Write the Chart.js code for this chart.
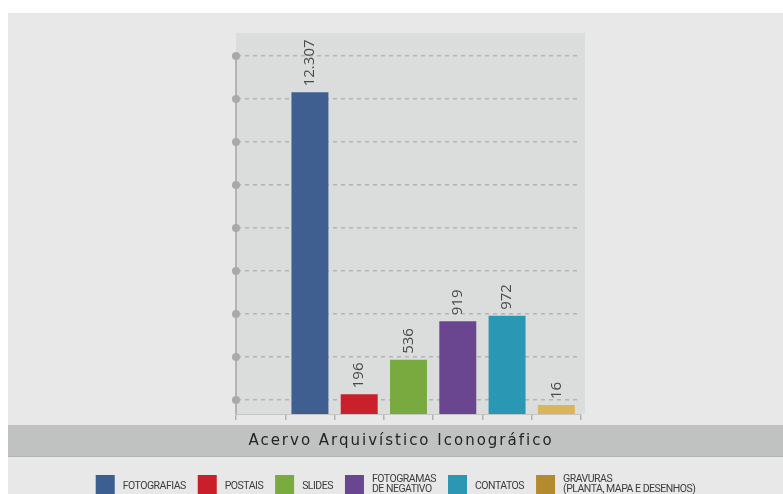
<!doctype html>
<html lang="pt-br">
<head>
    <meta charset="utf-8">
    <title>Acervo Arquivístico Iconográfico</title>
    <script src="https://cdn.jsdelivr.net/npm/chart.js"></script>
    <style>
        html, body {
            margin: 0;
            padding: 0;
            background: #ffffff;
        }
        #wrap {
            position: relative;
            width: 783px;
            height: 494px;
            overflow: hidden;
        }
    </style>
</head>
<body>
<div id="wrap">
    <canvas id="acervo_canvas" width="783" height="494"></canvas>
</div>
<script>
    const categories = ['Fotografias', 'Postais', 'Slides', 'Fotogramas de negativo', 'Contatos', 'Gravuras'];
    const values = [12307, 196, 536, 919, 972, 16];
    const barColors = ['#3e5f8f', '#c9202b', '#79aa3f', '#6a4691', '#2a97b4', '#d9b65c'];
    const legendLabels = [['FOTOGRAFIAS'], ['POSTAIS'], ['SLIDES'], ['FOTOGRAMAS', 'DE NEGATIVO'],
                          ['CONTATOS'], ['GRAVURAS', '(PLANTA, MAPA E DESENHOS)']];
    const legendColors = ['#3d5e91', '#c81f2a', '#79ab3f', '#6a4592', '#2b97b3', '#b48a2f'];
    const gridTicks = [0, 1, 2, 3, 4, 5, 6, 7, 8];
    const title = 'Acervo Arquivístico Iconográfico';

    // the original draws the biggest bar on a broken axis:
    // linear up to BREAK_AT, compressed above it
    const BREAK_AT = 1000;
    const BREAK_SHARE = 101 / 358;

    class BrokenScale extends Chart.LinearScale {
        static id = 'broken';
        static defaults = Chart.LinearScale.defaults;
        getPixelForValue(value) {
            const h = this.bottom - this.top;
            const lowPx = h * BREAK_SHARE;
            let y;
            if (value <= BREAK_AT) {
                y = value / BREAK_AT * lowPx;
            } else {
                y = lowPx + (value - BREAK_AT) / (this.max - BREAK_AT) * (h - lowPx);
            }
            return this.bottom - y;
        }
        getValueForPixel(pixel) {
            const h = this.bottom - this.top;
            const lowPx = h * BREAK_SHARE;
            const y = this.bottom - pixel;
            if (y <= lowPx) {
                return y / lowPx * BREAK_AT;
            }
            return BREAK_AT + (y - lowPx) / (h - lowPx) * (this.max - BREAK_AT);
        }
    }
    Chart.register(BrokenScale);

    function fmt(v) {
        return String(v).replace(/\B(?=(\d{3})+(?!\d))/g, '.');
    }

    // backgrounds: page, plot panel, title band
    const backdrop = {
        id: 'backdrop',
        beforeDraw(chart) {
            const ctx = chart.ctx;
            const a = chart.chartArea;
            ctx.save();
            ctx.fillStyle = '#ffffff';
            ctx.fillRect(0, 0, chart.width, chart.height);
            ctx.fillStyle = '#e8e8e8';
            ctx.fillRect(8, 13, chart.width - 8, chart.height - 13);
            ctx.fillStyle = '#dbdddd';
            ctx.fillRect(a.left, a.top - 23, a.right - a.left + 4, a.bottom - a.top + 23);
            // title band
            ctx.fillStyle = '#c0c2c2';
            ctx.fillRect(8, 425, chart.width - 8, 32);
            ctx.fillStyle = '#b3b5b5';
            ctx.fillRect(8, 456, chart.width - 8, 1);
            ctx.fillStyle = '#232323';
            ctx.font = '15px "DejaVu Sans"';
            ctx.letterSpacing = '2px';
            ctx.textAlign = 'center';
            ctx.textBaseline = 'middle';
            ctx.fillText(title, 401, 441);
            ctx.restore();
        }
    };

    // grey dots on the axis, value labels, legend
    const decorations = {
        id: 'decorations',
        afterDraw(chart) {
            const ctx = chart.ctx;
            const g = chart.scales.g;
            ctx.save();
            ctx.fillStyle = '#a9a9a9';
            gridTicks.forEach(t => {
                ctx.beginPath();
                ctx.arc(g.right, g.getPixelForValue(t), 4, 0, Math.PI * 2);
                ctx.fill();
            });

            // rotated value labels above the bars
            const meta = chart.getDatasetMeta(0);
            ctx.fillStyle = '#4a4a4a';
            ctx.font = '15px "Open Sans"';
            ctx.textAlign = 'left';
            ctx.textBaseline = 'middle';
            meta.data.forEach((bar, i) => {
                const v = chart.data.datasets[0].data[i];
                if (v == null) return;
                ctx.save();
                ctx.translate(bar.x, bar.y - 6);
                ctx.rotate(-Math.PI / 2);
                ctx.fillText(fmt(v), 0, 0);
                ctx.restore();
            });

            // legend along the bottom
            ctx.font = '10.5px Roboto';
            ctx.letterSpacing = '-0.5px';
            ctx.textBaseline = 'alphabetic';
            const box = 19, gap = 8, space = 12;
            const widths = legendLabels.map(lines => Math.max(...lines.map(l => ctx.measureText(l).width)));
            const total = widths.reduce((s, w) => s + box + gap + w, 0) + space * (widths.length - 1);
            let x = (8 + chart.width) / 2 - total / 2;
            legendLabels.forEach((lines, i) => {
                ctx.fillStyle = legendColors[i];
                ctx.fillRect(x, 475, box, box);
                ctx.fillStyle = '#3c3c3c';
                if (lines.length === 1) {
                    ctx.fillText(lines[0], x + box + gap, 489);
                } else {
                    ctx.fillText(lines[0], x + box + gap, 482);
                    ctx.fillText(lines[1], x + box + gap, 492);
                }
                x += box + gap + widths[i] + space;
            });
            ctx.restore();
        }
    };

    const ctx = document.getElementById('acervo_canvas');
    new Chart(ctx, {
        type: 'bar',
        data: {
            labels: [''].concat(categories),
            datasets: [{
                label: 'Acervo',
                data: [null].concat(values),
                backgroundColor: [null].concat(barColors),
                borderWidth: 0,
                categoryPercentage: 1,
                barPercentage: 0.75,
                minBarLength: 9,
                yAxisID: 'y'
            }]
        },
        options: {
            responsive: false,
            animation: false,
            layout: {
                padding: {left: 236, right: 202, top: 56, bottom: 80}
            },
            plugins: {
                legend: {display: false},
                tooltip: {enabled: false}
            },
            scales: {
                x: {
                    type: 'category',
                    offset: true,
                    afterFit: s => { s.height = 0; },
                    ticks: {display: false},
                    grid: {
                        offset: true,
                        drawOnChartArea: false,
                        drawTicks: true,
                        tickLength: 6,
                        color: '#b2b2b2',
                        lineWidth: 1.5
                    },
                    border: {display: true, color: '#c4c6c6', width: 1}
                },
                y: {
                    type: 'broken',
                    display: false,
                    min: 0,
                    max: 14166
                },
                g: {
                    type: 'linear',
                    position: 'left',
                    min: -0.326,
                    max: 8,
                    afterFit: s => { s.width = 0; },
                    afterBuildTicks: s => { s.ticks = gridTicks.map(v => ({value: v})); },
                    ticks: {display: false},
                    grid: {
                        drawTicks: false,
                        color: '#b4b4b4',
                        lineWidth: 1.5
                    },
                    border: {display: true, color: '#b4b4b4', width: 2, dash: [4, 4]}
                }
            }
        },
        plugins: [backdrop, decorations]
    });
</script>
</body>
</html>
